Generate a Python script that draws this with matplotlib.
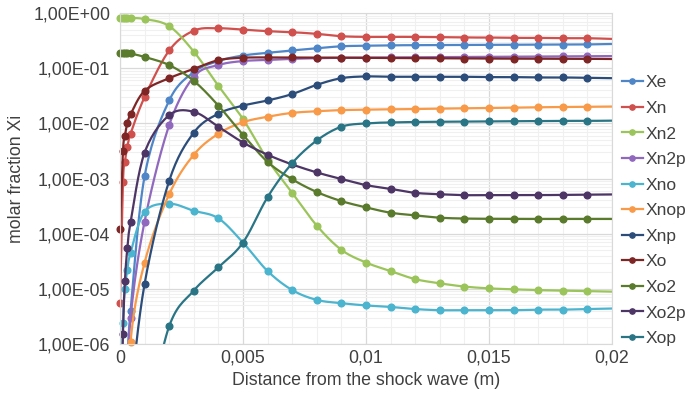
import numpy as np
import matplotlib
matplotlib.use('Agg')
import matplotlib.pyplot as plt
from matplotlib.lines import Line2D
from matplotlib.ticker import FixedLocator, FuncFormatter, LogLocator, MultipleLocator

plt.rcParams['font.family'] = ['Liberation Sans', 'DejaVu Sans']

# distance from the shock (m): refined mesh near the shock, then every mm
x_near = [0.0, 0.00012, 0.0002, 0.0003, 0.00043]
x_far = [0.001, 0.002, 0.003, 0.004, 0.005, 0.006, 0.007, 0.008, 0.009, 0.010,
         0.011, 0.012, 0.013, 0.014, 0.015, 0.016, 0.017, 0.018, 0.019, 0.020]
x = np.array(x_near + x_far)

species = ['Xe', 'Xn', 'Xn2', 'Xn2p', 'Xno', 'Xnop', 'Xnp', 'Xo', 'Xo2', 'Xo2p', 'Xop']
colors = ['#4F86C8', '#D0504D', '#9BC55A', '#9068BE', '#4BB4CE', '#F89A48',
          '#2C4D7A', '#7E2525', '#5A7A2C', '#4D3566', '#2A7585']

Xe = [1e-9, 1e-8, 1e-7, 5e-7, 4e-6,
      1.1e-3, 0.026, 0.085, 0.135, 0.17, 0.19, 0.21, 0.23, 0.25, 0.256,
      0.26, 0.262, 0.263, 0.264, 0.265, 0.266, 0.267, 0.268, 0.27, 0.275]
Xn = [5.6e-6, 8.5e-4, 2.0e-3, 3.8e-3, 6.5e-3,
      0.03, 0.21, 0.48, 0.53, 0.50, 0.47, 0.45, 0.42, 0.38, 0.37,
      0.37, 0.37, 0.365, 0.36, 0.36, 0.355, 0.355, 0.35, 0.35, 0.34]
Xn2 = [0.82, 0.82, 0.82, 0.81, 0.81,
       0.78, 0.58, 0.20, 0.048, 0.012, 2.2e-3, 5.5e-4, 1.4e-4, 5.1e-5, 3.0e-5,
       2.1e-5, 1.5e-5, 1.26e-5, 1.1e-5, 1.02e-5, 9.8e-6, 9.5e-6, 9.3e-6, 9.1e-6, 8.9e-6]
Xn2p = [1e-10, 1e-9, 1e-8, 1e-7, 3e-6,
        1.66e-4, 9.3e-3, 0.07, 0.114, 0.135, 0.141, 0.148, 0.152, 0.155, 0.156,
        0.157, 0.158, 0.159, 0.16, 0.161, 0.162, 0.163, 0.164, 0.165, 0.166]
Xno = [1e-8, 2.4e-6, 1e-5, 2.2e-5, 4.5e-5,
       2.5e-4, 3.5e-4, 2.6e-4, 1.9e-4, 6.9e-5, 2.1e-5, 9.5e-6, 6.3e-6, 5.5e-6, 5.0e-6,
       4.7e-6, 4.3e-6, 4.1e-6, 4.1e-6, 4.1e-6, 4.1e-6, 4.2e-6, 4.2e-6, 4.3e-6, 4.4e-6]
Xnop = [1e-11, 1e-10, 1e-9, 1e-8, 1.1e-6,
        3.0e-5, 5.2e-4, 2.7e-3, 6.5e-3, 0.0105, 0.0132, 0.0155, 0.0166, 0.0174, 0.0177,
        0.018, 0.0182, 0.0185, 0.0188, 0.019, 0.0193, 0.0196, 0.0198, 0.020, 0.0202]
Xnp = [1e-11, 1e-10, 1e-9, 1e-8, 1e-7,
       1.23e-5, 9.1e-4, 6.8e-3, 0.015, 0.021, 0.026, 0.034, 0.050, 0.066, 0.071,
       0.070, 0.070, 0.070, 0.070, 0.069, 0.069, 0.068, 0.068, 0.067, 0.066]
Xo = [1.2e-4, 3.1e-3, 6.0e-3, 1.0e-2, 1.45e-2,
      0.039, 0.066, 0.097, 0.14, 0.155, 0.157, 0.157, 0.156, 0.155, 0.154,
      0.153, 0.152, 0.151, 0.15, 0.15, 0.149, 0.149, 0.148, 0.148, 0.147]
Xo2 = [0.19, 0.19, 0.19, 0.188, 0.185,
       0.16, 0.114, 0.059, 0.021, 6.2e-3, 2.0e-3, 9.7e-4, 5.7e-4, 3.9e-4, 3.0e-4,
       2.4e-4, 2.15e-4, 1.95e-4, 1.88e-4, 1.86e-4, 1.85e-4, 1.85e-4, 1.85e-4, 1.85e-4, 1.85e-4]
Xo2p = [1e-8, 1.5e-6, 1.4e-5, 5.5e-5, 1.6e-4,
        2.95e-3, 0.0141, 0.0162, 8.7e-3, 4.5e-3, 2.7e-3, 1.8e-3, 1.29e-3, 9.8e-4, 7.6e-4,
        6.5e-4, 5.5e-4, 5.2e-4, 5.0e-4, 5.0e-4, 5.0e-4, 5.0e-4, 5.05e-4, 5.1e-4, 5.15e-4]
Xop = [1e-12, 1e-11, 1e-10, 1e-9, 1e-8,
       3e-8, 2.1e-6, 9.3e-6, 2.45e-5, 6.9e-5, 4.6e-4, 1.9e-3, 4.9e-3, 8.7e-3, 0.010,
       0.0104, 0.0106, 0.0107, 0.0108, 0.0109, 0.011, 0.011, 0.0111, 0.0111, 0.0112]

series = [Xe, Xn, Xn2, Xn2p, Xno, Xnop, Xnp, Xo, Xo2, Xo2p, Xop]


def smooth(xs, ys, n=16):
    # Excel-style smoothed line: Catmull-Rom through the points (x, log y)
    P = np.column_stack([xs, np.log10(ys)])
    P = np.vstack([P[0], P, P[-1]])
    t = np.linspace(0, 1, n, endpoint=False)[:, None]
    out = []
    for i in range(1, len(P) - 2):
        p0, p1, p2, p3 = P[i - 1], P[i], P[i + 1], P[i + 2]
        out.append(0.5 * (2 * p1 + (-p0 + p2) * t
                          + (2 * p0 - 5 * p1 + 4 * p2 - p3) * t ** 2
                          + (-p0 + 3 * p1 - 3 * p2 + p3) * t ** 3))
    out.append(P[-2][None, :])
    arr = np.vstack(out)
    return arr[:, 0], 10 ** arr[:, 1]


fig = plt.figure(figsize=(6.88, 3.96), dpi=100, facecolor='w')
ax = fig.add_axes([0.1744, 0.1313, 0.7151, 0.8357])

for name, vals, col in zip(species, series, colors):
    vals = np.array(vals)
    sx, sy = smooth(x, vals)
    ax.plot(sx, sy, color=col, lw=1.6, solid_capstyle='round')
    # markers like Excel: not clipped at the frame, none on the last point
    keep = vals[:-1] >= 1e-6
    ax.plot(x[:-1][keep], vals[:-1][keep], 'o', color=col, ms=4.8, mec=col,
            clip_on=False)

ax.set_yscale('log')
ax.set_xlim(0, 0.02)
ax.set_ylim(1e-6, 1)

ax.xaxis.set_major_locator(MultipleLocator(0.005))
ax.xaxis.set_minor_locator(MultipleLocator(0.001))
ax.xaxis.set_major_formatter(FuncFormatter(
    lambda v, p: '0' if abs(v) < 1e-12 else ('%g' % v).replace('.', ',')))
ax.yaxis.set_major_locator(FixedLocator([10.0 ** k for k in range(-6, 1)]))
ax.yaxis.set_minor_locator(LogLocator(base=10, subs=np.arange(2, 10)))
ax.yaxis.set_minor_formatter(FuncFormatter(lambda v, p: ''))
ax.yaxis.set_major_formatter(FuncFormatter(
    lambda v, p: '1,00E%+03d' % int(round(np.log10(v)))))

ax.grid(which='major', color='#D9D9D9', lw=0.9)
ax.grid(which='minor', color='#F0F0F0', lw=0.8)
ax.set_axisbelow(True)
for s in ax.spines.values():
    s.set_color('#D9D9D9')
ax.tick_params(which='both', length=0, labelsize=12.8, colors='#404040')
ax.tick_params(axis='y', pad=7)
ax.tick_params(axis='x', pad=4)

ax.set_ylabel('molar fraction Xi', fontsize=12.8, color='#404040', labelpad=6)
ax.set_xlabel('Distance from the shock wave (m)', fontsize=12.8, color='#404040',
              labelpad=4)

handles = [Line2D([], [], color=c, lw=1.6, marker='o', ms=3.8) for c in colors]
fig.legend(handles, species, loc='center left', bbox_to_anchor=(0.9036, 0.468),
           frameon=False, fontsize=12.5, handlelength=1.2, handletextpad=0.15,
           labelspacing=0.6, borderpad=0, borderaxespad=0, labelcolor='#404040')

fig.savefig('out.png', dpi=100)
